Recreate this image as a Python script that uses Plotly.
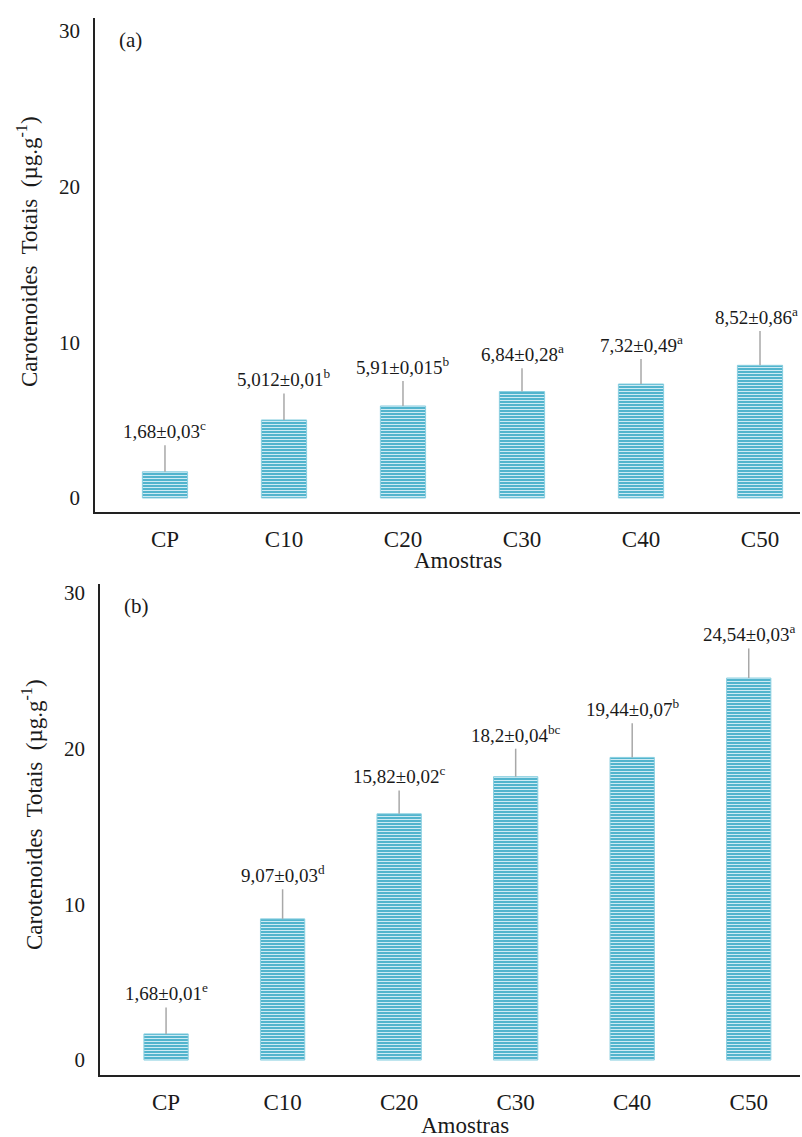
import plotly.graph_objects as go

categories = ["CP", "C10", "C20", "C30", "C40", "C50"]

# Panel (a)
values_a = [1.68, 5.012, 5.91, 6.84, 7.32, 8.52]
whisker_a = [1.7, 1.7, 1.6, 1.5, 1.6, 2.2]
labels_a = ["1,68±0,03<sup>c</sup>", "5,012±0,01<sup>b</sup>", "5,91±0,015<sup>b</sup>",
            "6,84±0,28<sup>a</sup>", "7,32±0,49<sup>a</sup>", "8,52±0,86<sup>a</sup>"]

# Panel (b)
values_b = [1.68, 9.07, 15.82, 18.2, 19.44, 24.54]
whisker_b = [1.7, 1.9, 1.5, 1.8, 2.2, 1.9]
labels_b = ["1,68±0,01<sup>e</sup>", "9,07±0,03<sup>d</sup>", "15,82±0,02<sup>c</sup>",
            "18,2±0,04<sup>bc</sup>", "19,44±0,07<sup>b</sup>", "24,54±0,03<sup>a</sup>"]

y_ticks = [0, 10, 20, 30]

W, H = 802, 1137
FONT = "Liberation Serif"
TXT = "#1a1a1a"
BAR = "#52B4CD"

def px_x(p):
    return p / W

def px_y(p):
    return 1 - p / H

fig = go.Figure()

for vals, wh, xa, ya in [(values_a, whisker_a, "x", "y"), (values_b, whisker_b, "x2", "y2")]:
    fig.add_trace(go.Bar(
        x=categories, y=vals, xaxis=xa, yaxis=ya, width=0.38,
        marker=dict(color=BAR,
                    line=dict(color="#8ACFE0", width=1),
                    pattern=dict(shape="-", fgcolor="#DDF2F8", bgcolor=BAR,
                                 size=3, solidity=0.3, fillmode="replace")),
        error_y=dict(type="data", symmetric=False, array=wh, arrayminus=[0] * len(wh),
                     color="#A8A8A8", thickness=1.5, width=0),
        showlegend=False,
    ))

annotations = []
for vals, wh, labs, xr, yr in [(values_a, whisker_a, labels_a, "x", "y"),
                               (values_b, whisker_b, labels_b, "x2", "y2")]:
    n = len(labs)
    for i, (c, v, w, t) in enumerate(zip(categories, vals, wh, labs)):
        annotations.append(dict(x=c, y=v + w, xref=xr, yref=yr, text=t, showarrow=False,
                                yanchor="bottom", yshift=1, xshift=(-4 if (i == n - 1 and xr == "x") else 0),
                                font=dict(family=FONT, size=19, color=TXT)))

# panel letters
annotations.append(dict(x=px_x(117), y=px_y(40), xref="paper", yref="paper", text="(a)",
                        showarrow=False, xanchor="left", yanchor="middle",
                        font=dict(family=FONT, size=21, color=TXT)))
annotations.append(dict(x=px_x(122), y=px_y(606), xref="paper", yref="paper", text="(b)",
                        showarrow=False, xanchor="left", yanchor="middle",
                        font=dict(family=FONT, size=21, color=TXT)))
# axis titles
ytitle = "Carotenoides  Totais  (µg.g<sup>-1</sup>)"
annotations.append(dict(x=px_x(27), y=px_y(252), xref="paper", yref="paper", text=ytitle,
                        showarrow=False, textangle=-90, xanchor="center", yanchor="middle",
                        font=dict(family=FONT, size=23, color=TXT)))
annotations.append(dict(x=px_x(32), y=px_y(815), xref="paper", yref="paper", text=ytitle,
                        showarrow=False, textangle=-90, xanchor="center", yanchor="middle",
                        font=dict(family=FONT, size=23, color=TXT)))
annotations.append(dict(x=px_x(458), y=px_y(560), xref="paper", yref="paper", text="Amostras",
                        showarrow=False, xanchor="center", yanchor="middle",
                        font=dict(family=FONT, size=23, color=TXT)))
annotations.append(dict(x=px_x(465), y=px_y(1125), xref="paper", yref="paper", text="Amostras",
                        showarrow=False, xanchor="center", yanchor="middle",
                        font=dict(family=FONT, size=23, color=TXT)))

xcommon = dict(type="category", categoryorder="array", categoryarray=categories,
               showline=True, linecolor="#222222", linewidth=2, showgrid=False, zeroline=False,
               ticks="outside", ticklen=5, tickcolor="rgba(0,0,0,0)", automargin=False,
               tickfont=dict(family=FONT, size=23, color=TXT), fixedrange=True)
ycommon = dict(tickvals=y_ticks, showline=True, linecolor="#222222", linewidth=1.5,
               showgrid=False, zeroline=False, ticks="outside", ticklen=9,
               tickcolor="rgba(0,0,0,0)", automargin=False,
               tickfont=dict(family=FONT, size=21, color=TXT), fixedrange=True)

fig.update_layout(
    width=W, height=H,
    margin=dict(l=0, r=0, t=0, b=0),
    paper_bgcolor="white", plot_bgcolor="white",
    bargap=0.6,
    xaxis=dict(xcommon, domain=[px_x(95), px_x(800)], range=[-0.588, 5.336], anchor="y"),
    yaxis=dict(ycommon, domain=[px_y(512), px_y(18)], range=[-0.9, 30.83], anchor="x"),
    xaxis2=dict(xcommon, domain=[px_x(100), px_x(800)], range=[-0.567, 5.44], anchor="y2"),
    yaxis2=dict(ycommon, domain=[px_y(1075), px_y(584)], range=[-0.96, 30.58], anchor="x2"),
    annotations=annotations,
)

fig.write_html("out.html", config={"displayModeBar": False},
               post_script="document.body.style.margin='0';document.body.style.overflow='hidden';")
